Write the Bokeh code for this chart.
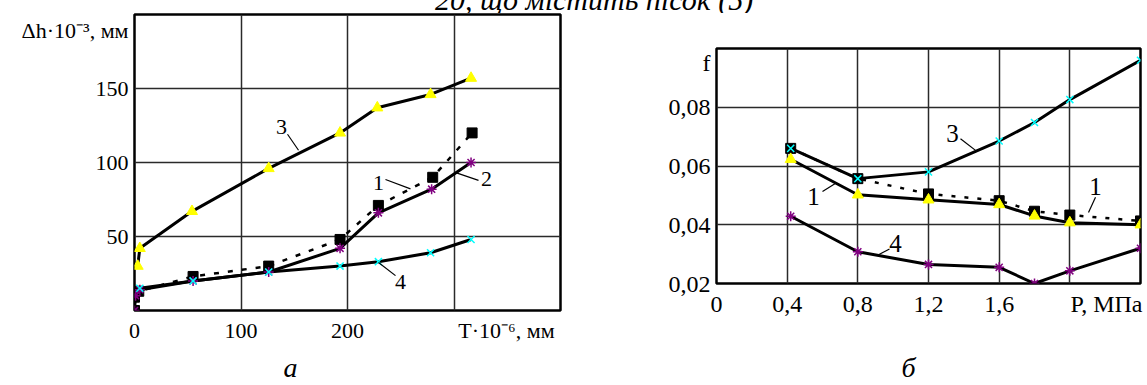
from bokeh.plotting import figure
from bokeh.layouts import row, column
from bokeh.models import FixedTicker, Range1d, CustomJSTickFormatter, LinearAxis, Div
from bokeh.embed import file_html
from bokeh.resources import INLINE
from bokeh.core.properties import value

# ---------------- data: panel "а" (Δh vs T) ----------------
a_s1_x = [0, 0, 4, 55, 126, 193, 229, 280, 317]
a_s1_y = [0, 9, 13, 23, 30, 48, 71, 90, 120]
a_s2_x = [0, 1, 5, 55, 126, 193, 229, 279, 316]
a_s2_y = [0, 10, 14, 20, 26, 42, 66, 82, 100]
a_s3_x = [3, 5, 54, 126, 193, 228, 278, 316]
a_s3_y = [30, 42, 67, 96, 120, 137, 146, 157]
a_s4_x = [5, 55, 126, 193, 229, 278, 316]
a_s4_y = [15, 20, 26, 30, 33, 39, 48]
a_xticks = [0, 100, 200]
a_yticks = [50, 100, 150]
a_xgrid = [100, 200, 300]
a_ygrid = [50, 100, 150]
a_xtitle = "T·10⁻⁶, мм"
a_ytitle = "Δh·10⁻³, мм"
a_letter = "а"

# ---------------- data: panel "б" (f vs P) ----------------
b_x = [0.42, 0.8, 1.2, 1.6, 1.8, 2.0, 2.4]
b_s1_y = [0.066, 0.0557, 0.0505, 0.0482, 0.0446, 0.0433, 0.0413]
b_s1t_y = [0.0623, 0.0502, 0.0485, 0.0469, 0.0430, 0.0407, 0.0400]
b_s3_y = [0.066, 0.0557, 0.058, 0.0685, 0.0748, 0.0826, 0.096]
b_s4_y = [0.0429, 0.0308, 0.0265, 0.0255, 0.0200, 0.0243, 0.032]
b_xticks = [0, 0.4, 0.8, 1.2, 1.6]
b_yticks = [0.02, 0.04, 0.06, 0.08]
b_xgrid = [0.4, 0.8, 1.2, 1.6, 2.0]
b_ygrid = [0.04, 0.06, 0.08]
b_xtitle = "P, МПа"
b_ytitle = "f"
b_letter = "б"

header_text = "20, що містить пісок (5)"

FONT = "Liberation Serif"
YELLOW = "#FFFF00"
PURPLE = "#800080"
CYAN = "#00FFFF"

# page-pixel geometry (figures start at page y = HDR)
HDR = 13
H = 385 - HDR
LW, RW = 620, 527
LX0, LX1, LY0, LY1 = 134, 560, 14, 328
RX0, RX1, RY0, RY1 = 716, 1140, 48, 293


def ax_px(px):
    return (px - LX0) / (LX1 - LX0) * 400


def ay_px(py):
    return (LY1 - py) / (LY1 - LY0) * 200


def bx_px(px):
    return (px - RX0) / (RX1 - RX0) * 2.4


def by_px(py):
    return 0.02 + (RY1 - py) / (RY1 - RY0) * 0.08


def style(p, size):
    p.outline_line_color = "black"
    p.outline_line_width = 2.5
    p.background_fill_color = "white"
    p.border_fill_color = "white"
    for ax in (p.xaxis[0], p.yaxis[0]):
        ax.axis_line_color = None
        ax.major_tick_line_color = None
        ax.minor_tick_line_color = None
        ax.major_tick_out = 0
        ax.major_tick_in = 0
        ax.major_label_text_font = FONT
        ax.major_label_text_font_size = f"{size}px"
        ax.major_label_text_color = "black"
    for g in (p.xgrid[0], p.ygrid[0]):
        g.grid_line_color = "#2a2a2a"
        g.grid_line_width = 1.5


def letter_axis(p, x, text, standoff):
    ax = LinearAxis(ticker=FixedTicker(ticks=[x]),
                    formatter=CustomJSTickFormatter(args=dict(t=text), code="return t;"),
                    axis_line_color=None, major_tick_line_color=None,
                    minor_tick_line_color=None, major_tick_in=0, major_tick_out=0,
                    major_label_text_font=FONT, major_label_text_font_size="28px",
                    major_label_text_font_style="italic", major_label_text_color="black",
                    major_label_standoff=standoff)
    p.add_layout(ax, "below")


# ================= left figure =================
pa = figure(width=LW, height=H, output_backend="svg", toolbar_location=None,
            x_range=Range1d(0, 400), y_range=Range1d(0, 200),
            min_border_left=LX0, min_border_right=LW - LX0 - (LX1 - LX0),
            min_border_top=LY0 - HDR, min_border_bottom=H - (LY0 - HDR) - (LY1 - LY0))
pa.frame_align = False
style(pa, 22)
a_xtitle_pos = ax_px(506)
a_ytitle_pos = ay_px(31)
pa.xaxis.ticker = FixedTicker(ticks=a_xticks + [a_xtitle_pos])
pa.yaxis.ticker = FixedTicker(ticks=a_yticks + [a_ytitle_pos])
pa.xaxis.formatter = CustomJSTickFormatter(
    args=dict(t=a_xtitle, lim=300),
    code="if (tick > lim) return t; return String(tick);")
pa.yaxis.formatter = CustomJSTickFormatter(
    args=dict(t=a_ytitle, lim=170),
    code="if (tick > lim) return t; return String(tick);")
pa.xgrid.ticker = FixedTicker(ticks=a_xgrid)
pa.ygrid.ticker = FixedTicker(ticks=a_ygrid)
pa.xaxis.major_label_standoff = 7
pa.yaxis.major_label_standoff = 6
letter_axis(pa, ax_px(290), a_letter, 6)

pa.line(a_s1_x, a_s1_y, line_color="black", line_width=2.5, line_dash="5 9")
pa.line(a_s2_x, a_s2_y, line_color="black", line_width=3)
pa.line(a_s3_x, a_s3_y, line_color="black", line_width=3)
pa.line(a_s4_x, a_s4_y, line_color="black", line_width=3)
pa.scatter(a_s1_x, a_s1_y, marker="square", size=10, fill_color="black", line_color="black")
pa.scatter(a_s3_x, a_s3_y, marker="triangle", size=11, fill_color=YELLOW, line_color=YELLOW)
pa.scatter(a_s2_x, a_s2_y, marker="asterisk", size=10, line_color=PURPLE, line_width=1.5)
pa.scatter(a_s4_x, a_s4_y, marker="x", size=10, line_color=CYAN, line_width=1.5)

# curve numbers with leader lines
a_lab_txt = ["3", "1", "2", "4"]
a_lab_px = [(281, 133), (378, 193), (486, 189), (400, 298)]
a_lead_px = [((287, 141), (298, 158)), ((385, 189), (410, 199)),
             ((456, 182), (478, 190)), ((378, 277), (395, 291))]
pa.text([ax_px(p[0]) for p in a_lab_px], [ay_px(p[1]) for p in a_lab_px], text=a_lab_txt,
        text_font=value(FONT), text_font_size="22px", text_align="center",
        text_baseline="middle", text_color="black")
pa.segment([ax_px(s[0][0]) for s in a_lead_px], [ay_px(s[0][1]) for s in a_lead_px],
           [ax_px(s[1][0]) for s in a_lead_px], [ay_px(s[1][1]) for s in a_lead_px],
           line_color="black", line_width=1.2)

# ================= right figure =================
pb = figure(width=RW, height=H, output_backend="svg", toolbar_location=None,
            x_range=Range1d(0, 2.4), y_range=Range1d(0.02, 0.10),
            min_border_left=RX0 - LW, min_border_right=RW - (RX0 - LW) - (RX1 - RX0),
            min_border_top=RY0 - HDR, min_border_bottom=H - (RY0 - HDR) - (RY1 - RY0))
pb.frame_align = False
style(pb, 24)
b_xtitle_pos = bx_px(1106)
b_ytitle_pos = by_px(63)
pb.xaxis.ticker = FixedTicker(ticks=b_xticks + [b_xtitle_pos])
pb.yaxis.ticker = FixedTicker(ticks=b_yticks + [b_ytitle_pos])
pb.xaxis.formatter = CustomJSTickFormatter(
    args=dict(t=b_xtitle, lim=2.0),
    code="if (tick > lim) return t; if (Math.abs(tick) < 1e-9) return '0'; "
         "return tick.toFixed(1).replace('.', ',');")
pb.yaxis.formatter = CustomJSTickFormatter(
    args=dict(t=b_ytitle, lim=0.09),
    code="if (tick > lim) return t; return tick.toFixed(2).replace('.', ',');")
pb.xgrid.ticker = FixedTicker(ticks=b_xgrid)
pb.ygrid.ticker = FixedTicker(ticks=b_ygrid)
pb.xaxis.major_label_standoff = 7
pb.yaxis.major_label_standoff = 6
letter_axis(pb, bx_px(908), b_letter, 32)

pb.line(b_x, b_s1_y, line_color="black", line_width=2.5, line_dash="4 9")
pb.line(b_x, b_s1t_y, line_color="black", line_width=3)
pb.line(b_x, b_s3_y, line_color="black", line_width=3)
pb.line(b_x, b_s4_y, line_color="black", line_width=3)
pb.scatter(b_x, b_s1_y, marker="square", size=10, fill_color="black", line_color="black")
pb.scatter(b_x, b_s1t_y, marker="triangle", size=11, fill_color=YELLOW, line_color=YELLOW)
pb.scatter(b_x, b_s4_y, marker="asterisk", size=10, line_color=PURPLE, line_width=1.5)
pb.scatter(b_x, b_s3_y, marker="x", size=10, line_color=CYAN, line_width=1.5)

b_lab_txt = ["3", "1", "4", "1"]
b_lab_px = [(952, 137), (813, 202), (895, 251), (1095, 192)]
b_lead_px = [((960, 142), (976, 155)), ((822, 197), (836, 188)),
             ((878, 263), (889, 257)), ((1095, 203), (1088, 219))]
pb.text([bx_px(p[0]) for p in b_lab_px], [by_px(p[1]) for p in b_lab_px], text=b_lab_txt,
        text_font=value(FONT), text_font_size="25px", text_align="center",
        text_baseline="middle", text_color="black")
pb.segment([bx_px(s[0][0]) for s in b_lead_px], [by_px(s[0][1]) for s in b_lead_px],
           [bx_px(s[1][0]) for s in b_lead_px], [by_px(s[1][1]) for s in b_lead_px],
           line_color="black", line_width=1.2)

# cropped caption line at the very top (cut off in the reference as well)
hdr = Div(text=(f'<span style="position:relative; left:435px; top:-15px; '
                f'font-family:\'{FONT}\'; font-style:italic; font-size:30px; '
                f'line-height:30px; white-space:nowrap; display:inline-block;">'
                f'{header_text}</span>'),
          width=LW + RW, height=HDR, margin=0,
          styles={"overflow": "hidden"})

layout = column(hdr, row(pa, pb))
open("out.html", "w").write(file_html(layout, INLINE))
